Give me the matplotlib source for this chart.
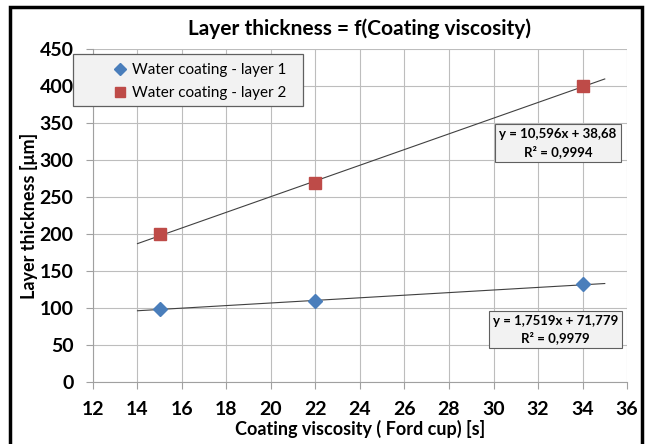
import matplotlib.pyplot as plt
import numpy as np

# data
viscosity = [15, 22, 34]
layer1 = [98, 110, 132]
layer2 = [200, 269, 400]
fit1 = (1.7519, 71.779)
fit2 = (10.596, 38.68)
fit_range = (14, 35)
label1 = "y = 1,7519x + 71,779\nR² = 0,9979"
label2 = "y = 10,596x + 38,68\nR² = 0,9994"

plt.rcParams["font.family"] = ["Lato", "DejaVu Sans"]

fig = plt.figure(figsize=(6.48, 4.44), dpi=100)
ax = fig.add_axes([0.1435, 0.1396, 0.8241, 0.75])

# outer black frame (runs off the bottom edge)
fig.patches.append(plt.Rectangle((10 / 648, -0.05), 632 / 648, 1.0335,
                                 transform=fig.transFigure, fill=False,
                                 edgecolor="black", linewidth=2.5))

xs = np.array(fit_range)
ax.plot(xs, fit1[0] * xs + fit1[1], color="#404040", linewidth=0.8, zorder=2)
ax.plot(xs, fit2[0] * xs + fit2[1], color="#404040", linewidth=0.8, zorder=2)

ax.plot(viscosity, layer1, linestyle="none", marker="D", markersize=7,
        color="#4a7ebb", label="Water coating - layer 1", zorder=3)
ax.plot(viscosity, layer2, linestyle="none", marker="s", markersize=8,
        color="#be4b48", label="Water coating - layer 2", zorder=3)

ax.set_xlim(12, 36)
ax.set_ylim(0, 450)
ax.set_xticks(range(12, 37, 2))
ax.set_yticks(range(0, 451, 50))
ax.grid(color="#bdbdbd", linewidth=0.8)
ax.set_axisbelow(True)
for s in ["top", "right"]:
    ax.spines[s].set_visible(False)
for s in ["left", "bottom"]:
    ax.spines[s].set_color("#a0a0a0")
ax.tick_params(colors="#a0a0a0", length=5, labelcolor="black", labelsize=14)
ax.tick_params(axis="x", pad=9)
ax.tick_params(axis="y", pad=9)
for lbl in ax.get_xticklabels() + ax.get_yticklabels():
    lbl.set_fontweight("bold")

ax.set_title("Layer thickness = f(Coating viscosity)", fontsize=15,
             fontweight="bold", pad=10)
ax.set_xlabel("Coating viscosity ( Ford cup) [s]", fontsize=13,
              fontweight="bold", labelpad=1)
ax.set_ylabel("Layer thickness [μm]", fontsize=13, fontweight="bold",
              labelpad=1)

# legend box drawn separately so it can be wider than its entries
ax.add_patch(plt.Rectangle((-0.0375, 0.829), 0.4307, 0.156,
                           transform=ax.transAxes, clip_on=False,
                           facecolor="#f2f2f2", edgecolor="#606060",
                           linewidth=0.9, zorder=4))
leg = ax.legend(loc="upper left", bbox_to_anchor=(0.039, 0.958), fontsize=11,
                frameon=False, handletextpad=0.4, handlelength=0.8,
                borderpad=0, labelspacing=0.6, markerscale=0.85,
                borderaxespad=0)
leg.set_zorder(5)

box = dict(boxstyle="square,pad=0.3", facecolor="#f2f2f2",
           edgecolor="#606060", linewidth=0.8)
ax.text(32.8, 71, label1, fontsize=9.5, fontweight="bold", ha="center",
        va="center", multialignment="center", linespacing=1.4, bbox=box)
ax.text(32.9, 323, label2, fontsize=9.5, fontweight="bold", ha="center",
        va="center", multialignment="center", linespacing=1.4, bbox=box)

fig.savefig("out.png", dpi=100)
